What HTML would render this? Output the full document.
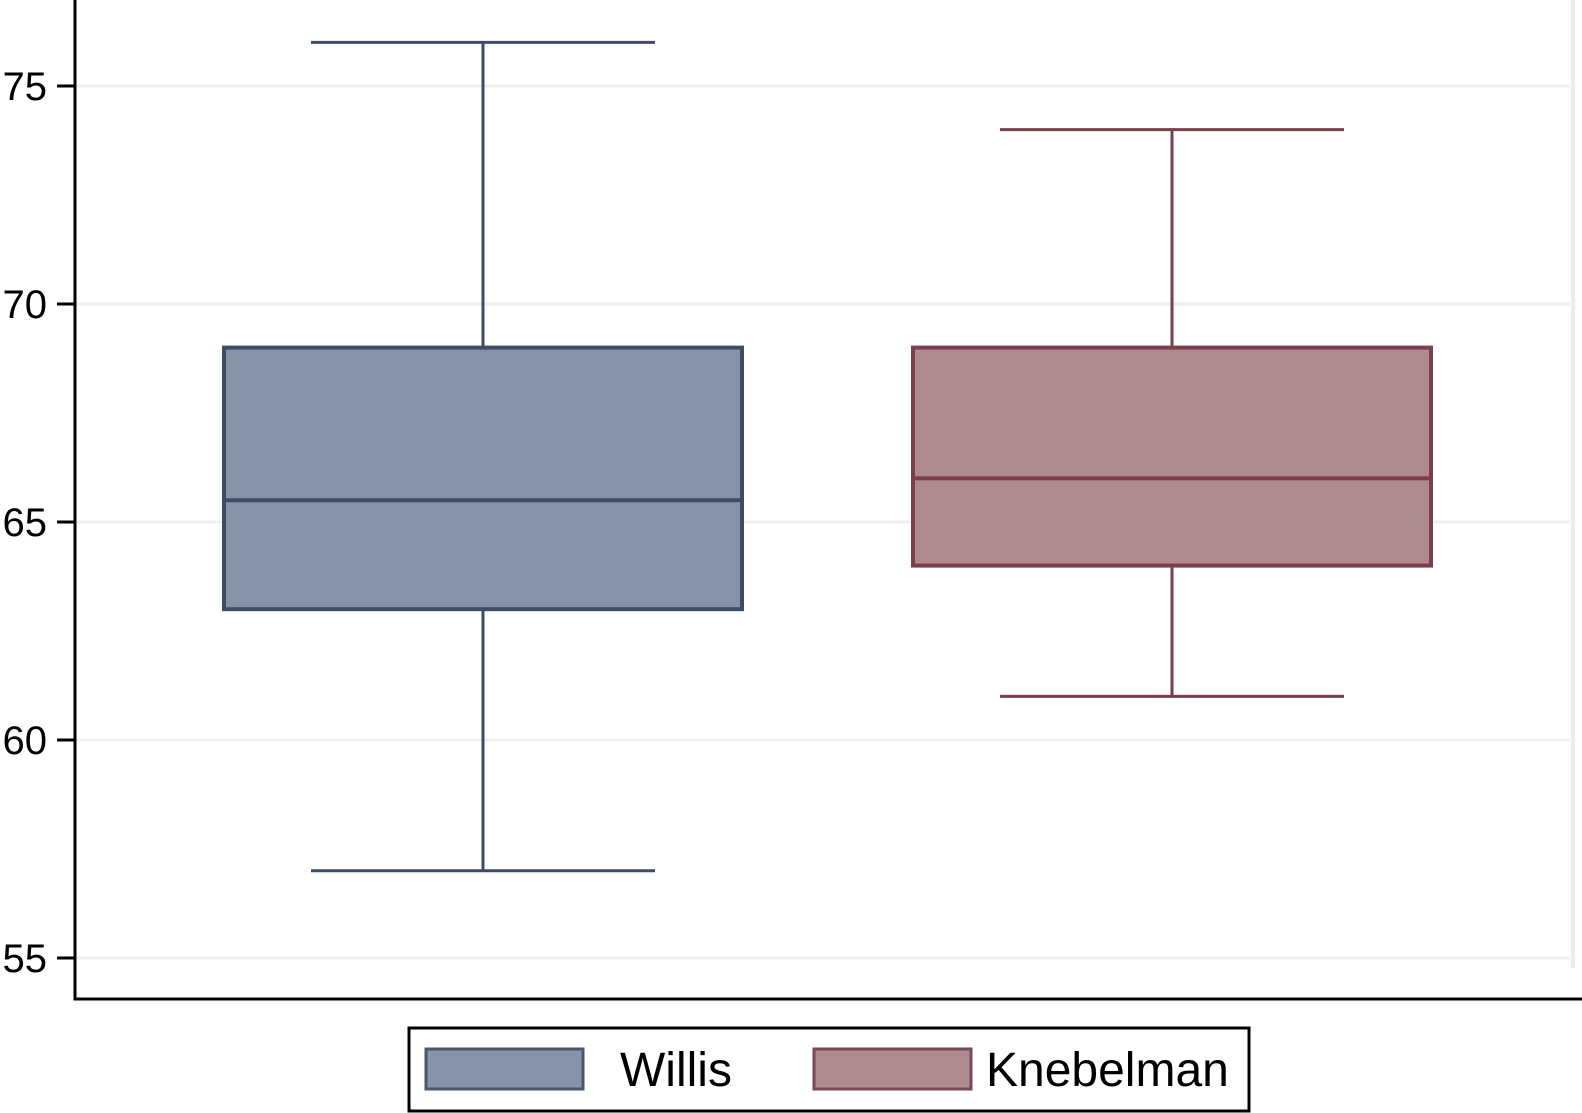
<!DOCTYPE html>
<html><head><meta charset="utf-8"><style>
html,body{margin:0;padding:0;background:#fff;}
svg{display:block;font-family:"Liberation Sans",Arial,sans-serif;}
</style></head><body>
<svg id="chart" width="1582" height="1113" viewBox="0 0 1582 1113" xmlns="http://www.w3.org/2000/svg">
<g id="grid"></g>
<line x1="1573" y1="0" x2="1573" y2="968" stroke="#eaecef" stroke-width="4"/>
<g id="boxes"></g>
<g id="yaxis"></g>
<line x1="75" y1="0" x2="75" y2="1000" stroke="#000" stroke-width="3"/>
<line x1="73.5" y1="999" x2="1582" y2="999" stroke="#000" stroke-width="3"/>
<g>
<rect x="409" y="1028" width="840" height="83" fill="#fff" stroke="#000" stroke-width="3"/>
<rect x="426" y="1049" width="157" height="40" fill="#8793a8" stroke="#4a5670" stroke-width="3"/>
<text x="620" y="1086" font-size="48" fill="#000">Willis</text>
<rect x="814" y="1049" width="157" height="40" fill="#ae8a8e" stroke="#7a4a55" stroke-width="3"/>
<text x="986" y="1086" font-size="48" fill="#000">Knebelman</text>
</g>
</svg>
<script>
const ticks = [55, 60, 65, 70, 75];
const groups = ["Willis", "Knebelman"];
const lowWhisker = [57, 61];
const q1 = [63, 64];
const median = [65.5, 66];
const q3 = [69, 69];
const highWhisker = [76, 74];

const fills = ["#8793a8", "#ae8a8e"];
const strokes = ["#3f4c68", "#7a3f4b"];
const NS = "http://www.w3.org/2000/svg";
function y(v){ return 86 + (75 - v) * 43.6; }
function xc(i){ return 483 + i * 689; }
function mk(tag, attrs, parent){
  const e = document.createElementNS(NS, tag);
  for (const k in attrs) e.setAttribute(k, attrs[k]);
  parent.appendChild(e);
  return e;
}
const grid = document.getElementById('grid');
const yaxis = document.getElementById('yaxis');
ticks.forEach(t => {
  const g = mk('line', {x1:77, x2:1570, y1:y(t), y2:y(t), stroke:'#eef0f2', 'stroke-width':3}, grid);
  
  
  const tm = mk('line', {x1:57, x2:75, y1:y(t), y2:y(t), stroke:'#000', 'stroke-width':3}, yaxis);
  
  
  const tx = mk('text', {x:47, y:y(t) + 14, 'font-size':40, 'text-anchor':'end', fill:'#000'}, yaxis);
  tx.textContent = t;
  
  
});
const boxes = document.getElementById('boxes');
groups.forEach((gname, i) => {
  const c = xc(i), hw = 259, cw = 172;
  const g = mk('g', {}, boxes);
  
  
  const w1 = mk('line', {x1:c, x2:c, y1:y(highWhisker[i]), y2:y(q3[i]), stroke:strokes[i], 'stroke-width':3}, g);
  
  
  const w2 = mk('line', {x1:c, x2:c, y1:y(q1[i]), y2:y(lowWhisker[i]), stroke:strokes[i], 'stroke-width':3}, g);
  
  
  const c1 = mk('line', {x1:c - cw, x2:c + cw, y1:y(highWhisker[i]), y2:y(highWhisker[i]), stroke:strokes[i], 'stroke-width':3}, g);
  
  
  const c2 = mk('line', {x1:c - cw, x2:c + cw, y1:y(lowWhisker[i]), y2:y(lowWhisker[i]), stroke:strokes[i], 'stroke-width':3}, g);
  
  
  const r = mk('rect', {x:c - hw, y:y(q3[i]), width:2 * hw, height:y(q1[i]) - y(q3[i]), fill:fills[i], stroke:strokes[i], 'stroke-width':4}, g);
  
  
  const m = mk('line', {x1:c - hw, x2:c + hw, y1:y(median[i]), y2:y(median[i]), stroke:strokes[i], 'stroke-width':4}, g);
  
  
});
</script>
</body></html>
